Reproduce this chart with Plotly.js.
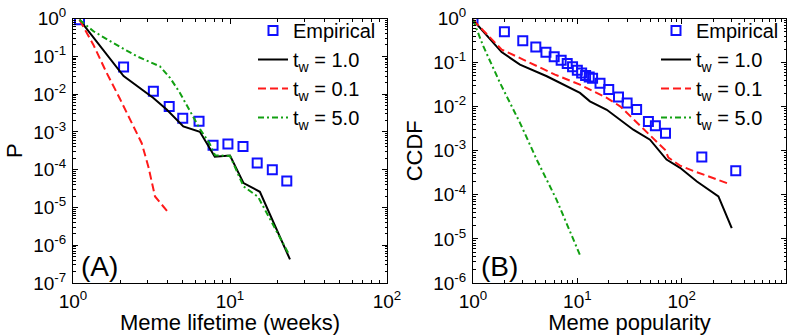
<!DOCTYPE html>
<html>
<head>
<meta charset="utf-8">
<script src="https://cdn.plot.ly/plotly-3.0.1.min.js"></script>
<style>html,body{margin:0;padding:0;background:#fff;}#chart{width:796px;height:335px;}</style>
</head>
<body>
<div id="chart"></div>
<script>
// ---------- Panel A: meme lifetime ----------
const lifeEmpX = [1.1, 2.1, 3.25, 4.1, 5.0, 6.35, 7.8, 9.7, 12.1, 14.9, 18.6, 23];
const lifeEmpY = [0.93, 0.052, 0.0118, 0.0047, 0.0023, 0.0019, 0.00044, 0.00048, 0.00041, 0.00015, 0.0001, 0.00005];
const lifeT10X = [1.1, 2.1, 3.25, 3.95, 5.04, 6.43, 8.0, 10.0, 12.2, 15.5, 24.1];
const lifeT10Y = [0.93, 0.03, 0.0079, 0.0039, 0.0014, 0.001, 0.00022, 0.000235, 0.000044, 0.000026, 0.00000042];
const lifeT01X = [1.1, 1.35, 1.62, 1.99, 2.74, 3.02, 3.33, 4.05];
const lifeT01Y = [0.93, 0.2, 0.04, 0.0075, 0.0005, 0.00012, 0.0000195, 0.0000073];
const lifeT50X = [1.1, 1.35, 1.8, 2.55, 3.58, 4.15, 4.8, 5.7, 6.43, 7.4, 8.03, 10.0, 12.2, 15.1, 23.5];
const lifeT50Y = [0.93, 0.46, 0.227, 0.1, 0.054, 0.027, 0.0107, 0.0031, 0.0012, 0.0005, 0.00024, 0.00023, 0.000036, 0.000019, 0.00000062];

// ---------- Panel B: meme popularity ----------
const popEmpX = [1, 2, 3, 4, 5, 6, 7, 8, 9, 10, 11, 12, 13, 14, 16.5, 20, 24.8, 30, 37, 48, 56, 70, 156, 330];
const popEmpY = [1.0, 0.5, 0.311, 0.227, 0.171, 0.135, 0.113, 0.095, 0.080, 0.067, 0.058, 0.051, 0.047, 0.044, 0.034, 0.0245, 0.0166, 0.0121, 0.0086, 0.0046, 0.0037, 0.0025, 0.00072, 0.00035];
const popT10X = [1, 1.88, 2.82, 5.1, 10.6, 13.2, 19.15, 34.4, 49.7, 71.6, 96.5, 140, 225, 302];
const popT10Y = [0.93, 0.173, 0.09, 0.049, 0.0205, 0.0132, 0.0085, 0.003, 0.00178, 0.00063, 0.00041, 0.0002, 0.000092, 0.0000175];
const popT01X = [1, 1.885, 3.03, 6.11, 10.6, 19.15, 25.7, 69.3, 74.6, 96.5, 129, 279];
const popT01Y = [0.93, 0.197, 0.117, 0.0534, 0.0316, 0.0158, 0.0102, 0.00105, 0.0007, 0.00046, 0.00035, 0.00018];
const popT50X = [1, 1.255, 1.815, 2.82, 4.08, 6.33, 10.6];
const popT50Y = [0.93, 0.235, 0.0346, 0.0043, 0.00063, 0.000077, 0.0000043];

// ---------- labels ----------
const seriesNames = ['Empirical', 't<sub>w</sub> = 1.0', 't<sub>w</sub> = 0.1', 't<sub>w</sub> = 5.0'];
const xTitleA = 'Meme lifetime (weeks)';
const xTitleB = 'Meme popularity';
const yTitleA = 'P';
const yTitleB = 'CCDF';
const xTickValsA = [1, 10, 100];
const xTickTextA = ['10<sup>0</sup>', '10<sup>1</sup>', '10<sup>2</sup>'];
const xTickValsB = [1, 10, 100, 1000];
const xTickTextB = ['10<sup>0</sup>', '10<sup>1</sup>', '10<sup>2</sup>', '10<sup>3</sup>'];
const yTickValsA = [1e-7, 1e-6, 1e-5, 1e-4, 1e-3, 1e-2, 1e-1, 1];
const yTickTextA = ['10<sup>-7</sup>', '10<sup>-6</sup>', '10<sup>-5</sup>', '10<sup>-4</sup>', '10<sup>-3</sup>', '10<sup>-2</sup>', '10<sup>-1</sup>', '10<sup>0</sup>'];
const yTickValsB = [1e-6, 1e-5, 1e-4, 1e-3, 1e-2, 1e-1, 1];
const yTickTextB = ['10<sup>-6</sup>', '10<sup>-5</sup>', '10<sup>-4</sup>', '10<sup>-3</sup>', '10<sup>-2</sup>', '10<sup>-1</sup>', '10<sup>0</sup>'];

function minorVals(lo, hi) {
  const v = [];
  for (let d = lo; d < hi; d++) for (let k = 2; k <= 9; k++) v.push(k * Math.pow(10, d));
  return v;
}

const BLUE = '#1010ff', BLACK = '#000000', RED = '#ff1a1a', GREEN = '#12a012';
const emp = (x, y, leg) => ({x, y, type: 'scatter', mode: 'markers', name: seriesNames[0], legend: leg,
  marker: {symbol: 'square-open', size: 9, color: BLUE, line: {width: 2, color: BLUE}}});
const ln = (x, y, i, color, dash, leg) => ({x, y, type: 'scatter', mode: 'lines', name: seriesNames[i], legend: leg,
  line: {color, width: 2, dash}});

const traces = [
  Object.assign(emp(lifeEmpX, lifeEmpY, 'legend'), {xaxis: 'x', yaxis: 'y'}),
  Object.assign(ln(lifeT10X, lifeT10Y, 1, BLACK, 'solid', 'legend'), {xaxis: 'x', yaxis: 'y'}),
  Object.assign(ln(lifeT01X, lifeT01Y, 2, RED, '8px,4px', 'legend'), {xaxis: 'x', yaxis: 'y'}),
  Object.assign(ln(lifeT50X, lifeT50Y, 3, GREEN, '6px,3px,2px,3px', 'legend'), {xaxis: 'x', yaxis: 'y'}),
  Object.assign(emp(popEmpX, popEmpY, 'legend2'), {xaxis: 'x2', yaxis: 'y2'}),
  Object.assign(ln(popT10X, popT10Y, 1, BLACK, 'solid', 'legend2'), {xaxis: 'x2', yaxis: 'y2'}),
  Object.assign(ln(popT01X, popT01Y, 2, RED, '8px,4px', 'legend2'), {xaxis: 'x2', yaxis: 'y2'}),
  Object.assign(ln(popT50X, popT50Y, 3, GREEN, '6px,3px,2px,3px', 'legend2'), {xaxis: 'x2', yaxis: 'y2'})
];

const W = 796, H = 335;
const common = {
  type: 'log', showgrid: false, zeroline: false, showline: true, linecolor: '#000', linewidth: 1,
  mirror: 'ticks', ticks: 'inside', ticklen: 5, tickwidth: 1, tickcolor: '#000',
  tickfont: {size: 19, color: '#000'}, tickmode: 'array'
};
const yTop = 1 - 18.5 / H, yBot = 1 - 283 / H;

const layout = {
  width: W, height: H, margin: {l: 0, r: 0, t: 0, b: 0},
  paper_bgcolor: '#fff', plot_bgcolor: '#fff',
  font: {family: 'Liberation Sans, Arial, Helvetica, sans-serif', color: '#000', size: 20},
  showlegend: true,
  xaxis: Object.assign({}, common, {domain: [73 / W, 387 / W], range: [0, 2], anchor: 'y',
    tickvals: xTickValsA, ticktext: xTickTextA, ticklabelstandoff: 1,
    minor: {tickvals: minorVals(0, 2), ticks: 'inside', ticklen: 3, tickcolor: '#000'},
    title: {text: xTitleA, font: {size: 22}, standoff: 2}}),
  yaxis: Object.assign({}, common, {domain: [yBot, yTop], range: [-7, 0], anchor: 'x',
    tickvals: yTickValsA, ticktext: yTickTextA, ticklabelstandoff: 2,
    minor: {tickvals: minorVals(-7, 0), ticks: 'inside', ticklen: 2.5, tickcolor: '#000'},
    title: {text: yTitleA, font: {size: 22}, standoff: 4}}),
  xaxis2: Object.assign({}, common, {domain: [473 / W, 786 / W], range: [0, 3], anchor: 'y2',
    tickvals: xTickValsB, ticktext: xTickTextB, ticklabelstandoff: 1,
    minor: {tickvals: minorVals(0, 3), ticks: 'inside', ticklen: 3, tickcolor: '#000'},
    title: {text: xTitleB, font: {size: 22}, standoff: 2}}),
  yaxis2: Object.assign({}, common, {domain: [yBot, yTop], range: [-6, 0], anchor: 'x2',
    tickvals: yTickValsB, ticktext: yTickTextB, ticklabelstandoff: 2,
    minor: {tickvals: minorVals(-6, 0), ticks: 'inside', ticklen: 2.5, tickcolor: '#000'},
    title: {text: yTitleB, font: {size: 22}, standoff: 4}}),
  legend: {x: 253 / W, y: 1 - 11 / H, xanchor: 'left', yanchor: 'top', bgcolor: 'rgba(0,0,0,0)',
    borderwidth: 0, font: {size: 20}, tracegroupgap: 0},
  legend2: {x: 656 / W, y: 1 - 11 / H, xanchor: 'left', yanchor: 'top', bgcolor: 'rgba(0,0,0,0)',
    borderwidth: 0, font: {size: 20}, tracegroupgap: 0},
  annotations: [
    {text: '(A)', xref: 'paper', yref: 'paper', x: 100 / W, y: 1 - 266 / H, showarrow: false, font: {size: 28}, xanchor: 'center', yanchor: 'middle'},
    {text: '(B)', xref: 'paper', yref: 'paper', x: 499 / W, y: 1 - 266 / H, showarrow: false, font: {size: 28}, xanchor: 'center', yanchor: 'middle'}
  ]
};

Plotly.newPlot('chart', traces, layout, {staticPlot: true, displayModeBar: false});
</script>
</body>
</html>
